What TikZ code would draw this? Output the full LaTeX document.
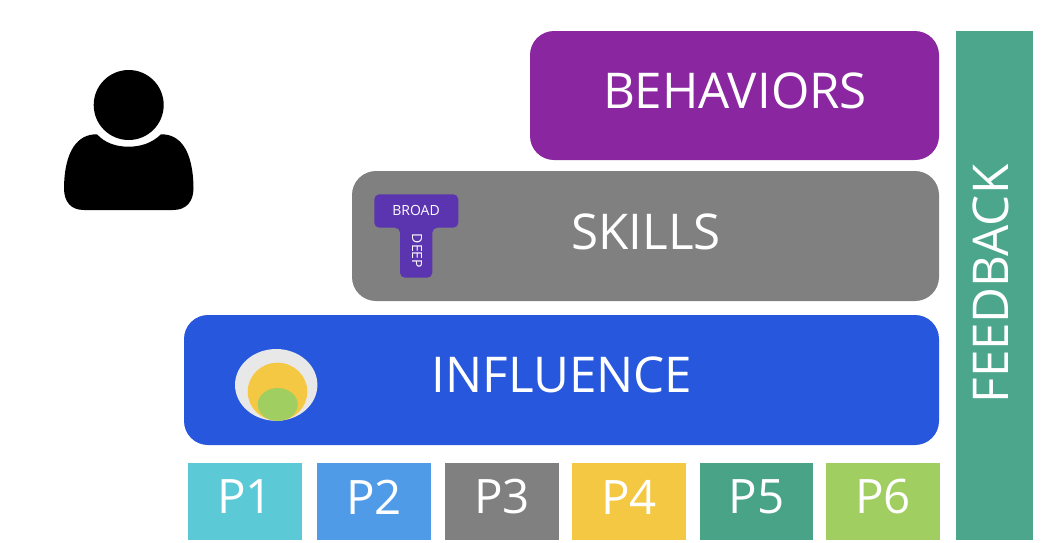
\documentclass[tikz,border=0pt]{standalone}
\usepackage{fontspec}
\setmainfont{Open Sans}
\definecolor{cpurple}{HTML}{8A27A0}
\definecolor{cgray}{HTML}{808080}
\definecolor{cblue}{HTML}{2657DC}
\definecolor{cteal}{HTML}{4BA68C}
\definecolor{cone}{HTML}{5CCAD6}
\definecolor{ctwo}{HTML}{4F9BE8}
\definecolor{cfour}{HTML}{F4C842}
\definecolor{cfive}{HTML}{49A387}
\definecolor{csix}{HTML}{A0CE60}
\definecolor{cT}{HTML}{5B34B0}
\definecolor{cpale}{HTML}{E8E8E8}
\tikzset{
  band/.style={rounded corners=24pt,draw=none},
  bandtext/.style={text=white,font=\fontsize{49.3}{49.3}\selectfont},
  pbox/.style={draw=none},
  ptext/.style={text=white,font=\fontsize{47.5}{47.5}\selectfont},
  sidetext/.style={text=white,font=\fontsize{49.3}{49.3}\selectfont},
  tiny/.style={text=white,font=\fontsize{14}{14}\selectfont}
}
\begin{document}
\begin{tikzpicture}[x=1pt,y=-1pt]
\useasboundingbox (0,0) rectangle (1044,542);
% person
\fill[black] (128.7,105) circle (35);
\fill[black] (97,134.3) .. controls (105,143) and (116,146.7) .. (128.5,146.7)
  .. controls (141,146.7) and (152,143) .. (161,134.3)
  .. controls (180,134) and (193,150) .. (193.5,188)
  .. controls (193.5,202) and (186,210) .. (173,210)
  -- (84,210)
  .. controls (71,210) and (64,202) .. (64,188)
  .. controls (64.5,150) and (78,134) .. (97,134.3) -- cycle;
% bands
\fill[cpurple,band] (530,31) rectangle (939,160);
\fill[cgray,band] (352,171) rectangle (939,301);
\fill[cblue,band] (184,315) rectangle (939,445);
\node[bandtext] (behaviors) at (735,91) {BEHAVIORS};
\node[bandtext] (skills) at (646,232) {SKILLS};
\node[bandtext] (influence) at (562,375) {INFLUENCE};
% T shape
\fill[cT,rounded corners=5pt] (374.3,194.3) -- (458.3,194.3) -- (458.3,227.7) -- (432.3,227.7) -- (432.3,277.7) -- (400,277.7) -- (400,227.7) -- (374.3,227.7) -- cycle;
\node[tiny] (broad) at (416,210) {BROAD};
\node[tiny,rotate=-90] (deep) at (417,251) {DEEP};
% circles
\fill[cpale] (276.2,384.9) ellipse (41.2 and 35.9);
\fill[cfour] (277.5,391.7) ellipse (29.8 and 29);
\fill[csix] (277.7,404.4) ellipse (20 and 16.4);
% P row
\foreach \nm/\xa/\xb/\col/\lab in {pa/188/302/cone/P1,pb/317/431/ctwo/P2,pc/445/559/cgray/P3,pd/572/686/cfour/P4,pe/700/813/cfive/P5,pf/826/940/csix/P6}{
  \fill[\col,pbox] (\xa,463) rectangle (\xb,540);
  \node[ptext] (\nm) at ({(\xa+\xb)/2},497) {\lab};
}
% feedback
\fill[cteal,pbox] (956,31) rectangle (1033,540);
\node[sidetext,rotate=90] (feedback) at (991,284) {FEEDBACK};
\end{tikzpicture}
\end{document}
